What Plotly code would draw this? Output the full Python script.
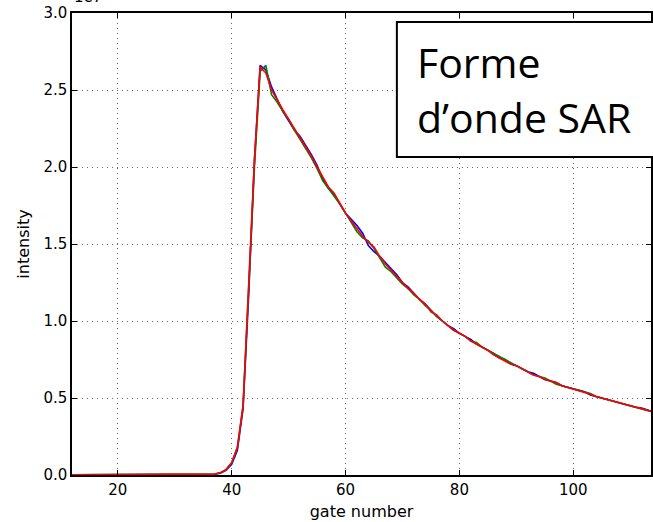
import plotly.graph_objects as go

gates = list(range(12, 115))

red = [0.002]*24 + [
    0.003, 0.006, 0.015, 0.035, 0.08, 0.18, 0.45, 1.20, 2.05, 2.65,   # 36-45
    2.61, 2.50, 2.43, 2.37, 2.31, 2.25, 2.19, 2.13, 2.07, 2.00,      # 46-55
    1.93, 1.87, 1.83, 1.76, 1.70, 1.65, 1.60, 1.55, 1.51, 1.48,      # 56-65
    1.42, 1.37, 1.33, 1.29, 1.25, 1.21, 1.18, 1.14, 1.11, 1.06,      # 66-75
    1.04, 1.00, 0.97, 0.94, 0.92, 0.90, 0.87, 0.85, 0.83, 0.81,      # 76-85
    0.78, 0.76, 0.74, 0.72, 0.71, 0.69, 0.67, 0.65, 0.64, 0.62,      # 86-95
    0.61, 0.60, 0.58, 0.57, 0.56, 0.55, 0.535, 0.525, 0.51, 0.50,    # 96-105
    0.49, 0.48, 0.47, 0.46, 0.45, 0.44, 0.43, 0.42, 0.41,            # 106-114
]

blue = [0.002]*24 + [
    0.002, 0.005, 0.012, 0.03, 0.07, 0.16, 0.43, 1.18, 2.05, 2.66,
    2.63, 2.52, 2.44, 2.36, 2.30, 2.24, 2.20, 2.14, 2.08, 2.01,
    1.92, 1.86, 1.82, 1.76, 1.70, 1.66, 1.62, 1.57, 1.49, 1.45,
    1.42, 1.38, 1.34, 1.30, 1.25, 1.22, 1.18, 1.14, 1.11, 1.07,
    1.03, 1.00, 0.97, 0.95, 0.92, 0.90, 0.88, 0.85, 0.83, 0.81,
    0.79, 0.76, 0.75, 0.72, 0.71, 0.69, 0.67, 0.66, 0.64, 0.62,
    0.61, 0.60, 0.58, 0.57, 0.56, 0.55, 0.54, 0.52, 0.51, 0.50,
    0.49, 0.48, 0.47, 0.46, 0.45, 0.44, 0.435, 0.42, 0.41,
]

green = [0.002]*24 + [
    0.003, 0.006, 0.014, 0.034, 0.08, 0.18, 0.45, 1.19, 2.00, 2.62,
    2.66, 2.47, 2.42, 2.36, 2.31, 2.24, 2.18, 2.12, 2.06, 1.99,
    1.91, 1.86, 1.81, 1.76, 1.70, 1.64, 1.58, 1.54, 1.52, 1.47,
    1.41, 1.35, 1.32, 1.28, 1.24, 1.21, 1.17, 1.14, 1.10, 1.07,
    1.03, 1.00, 0.97, 0.94, 0.92, 0.90, 0.87, 0.86, 0.83, 0.81,
    0.79, 0.77, 0.75, 0.73, 0.71, 0.69, 0.67, 0.65, 0.64, 0.63,
    0.61, 0.59, 0.58, 0.57, 0.56, 0.55, 0.54, 0.53, 0.51, 0.50,
    0.49, 0.485, 0.47, 0.46, 0.45, 0.445, 0.43, 0.42, 0.41,
]

x_ticks = [20, 40, 60, 80, 100]
y_ticks = [0.0, 0.5, 1.0, 1.5, 2.0, 2.5, 3.0]
y_ticklabels = ["0.0", "0.5", "1.0", "1.5", "2.0", "2.5", "3.0"]

fig = go.Figure()
for ys, col in [(blue, "#0000ff"), (green, "#008000"), (red, "#ff0000")]:
    fig.add_trace(go.Scatter(x=gates, y=ys, mode="lines",
                             line=dict(color=col, width=1.6), showlegend=False))

font = "DejaVu Sans"
grid = dict(showgrid=True, gridcolor="#666", griddash="1px,4px", gridwidth=1)
fig.update_layout(
    width=653, height=522,
    margin=dict(l=72, r=0, t=13, b=47),
    plot_bgcolor="white", paper_bgcolor="white",
    font=dict(family=font, color="black", size=15),
)
fig.update_xaxes(
    range=[11.95, 113.65], tickvals=x_ticks, ticks="inside", ticklen=5,
    tickcolor="black", showline=True, linecolor="black", linewidth=1.5,
    mirror="ticks", zeroline=False, tickfont=dict(size=15), **grid,
    title=dict(text="gate number", font=dict(size=16), standoff=8),
)
fig.update_yaxes(
    range=[0, 3.0], tickvals=y_ticks, ticktext=y_ticklabels, ticks="inside",
    ticklen=5, tickcolor="black", showline=True, linecolor="black", linewidth=1.5,
    mirror="ticks", zeroline=False, tickfont=dict(size=15), **grid,
    title=dict(text="intensity", font=dict(size=16), standoff=10),
)

# exponent label (mostly clipped at top, as in the reference)
fig.add_annotation(text="1e7", xref="paper", yref="paper", x=0, y=1,
                   xanchor="left", yanchor="bottom", yshift=5, showarrow=False,
                   font=dict(size=15, family=font))

# text box
fig.add_shape(type="rect", xref="paper", yref="paper",
              x0=(398 - 72) / 581, x1=1.1, y0=(475 - 157) / 462, y1=(475 - 22) / 462,
              line=dict(color="black", width=2), fillcolor="white", layer="above")
fig.add_annotation(text="Forme", xref="paper", yref="paper",
                   x=(416 - 72) / 581, y=(475 - 62) / 462, xanchor="left", yanchor="middle",
                   showarrow=False, font=dict(size=41, family="Open Sans", color="black"))
fig.add_annotation(text="d’onde SAR", xref="paper", yref="paper",
                   x=(416 - 72) / 581, y=(475 - 117) / 462, xanchor="left", yanchor="middle",
                   showarrow=False, font=dict(size=41, family="Open Sans", color="black"))

fig.write_html("out.html")
